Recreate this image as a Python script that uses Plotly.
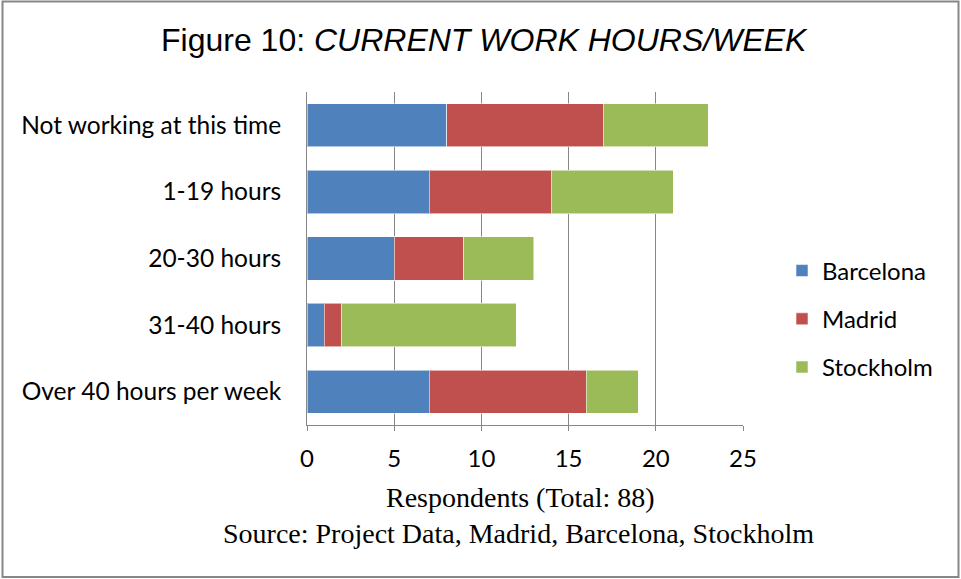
import plotly.graph_objects as go

categories = ["Not working at this time", "1-19 hours", "20-30 hours", "31-40 hours", "Over 40 hours per week"]
barcelona = [8, 7, 5, 1, 7]
madrid = [9, 7, 4, 1, 9]
stockholm = [6, 7, 4, 10, 3]
series_names = ["Barcelona", "Madrid", "Stockholm"]
series_colors = ["#4F81BD", "#C0504D", "#9BBB59"]
x_ticks = [0, 5, 10, 15, 20, 25]

W, H = 961, 579
fig = go.Figure()
for i, (name, vals, col) in enumerate(zip(series_names, [barcelona, madrid, stockholm], series_colors)):
    fig.add_trace(go.Bar(
        y=categories, x=vals, name=name, orientation="h",
        marker=dict(color=col, line=dict(color="rgba(255,255,255,0.55)", width=1)),
        legendgroup=name,
    ))

def px_x(p):
    return p / W

def px_y(p):
    return 1 - p / H

fig.update_layout(
    width=W, height=H, autosize=False,
    barmode="stack", bargap=0.35,
    paper_bgcolor="white", plot_bgcolor="white",
    margin=dict(l=0, r=0, t=0, b=0),
    font=dict(family="Lato, Open Sans, sans-serif", size=24, color="black"),
    xaxis=dict(
        domain=[px_x(307), px_x(743)],
        range=[0, 25], tickvals=x_ticks, ticktext=[str(v) for v in x_ticks],
        showgrid=True, gridcolor="#878787", gridwidth=1,
        showline=True, linecolor="#878787", linewidth=1,
        ticks="outside", ticklen=5, tickcolor="#878787",
        zeroline=False, ticklabelstandoff=7,
        tickfont=dict(size=24), automargin=False,
    ),
    yaxis=dict(
        domain=[px_y(425), px_y(92)],
        autorange="reversed",
        showline=True, linecolor="#878787", linewidth=1,
        showgrid=False, ticks="",
        ticklabelstandoff=20,
        tickfont=dict(size=24.5), automargin=False,
    ),
    legend=dict(
        x=px_x(782), y=px_y(319), xanchor="left", yanchor="middle",
        font=dict(size=24), tracegroupgap=14, traceorder="grouped",
        bgcolor="rgba(0,0,0,0)", itemwidth=30,
        entrywidth=115, entrywidthmode="pixels", borderwidth=0,
    ),
    showlegend=True,
)

fig.add_annotation(
    x=px_x(484), y=px_y(40), xref="paper", yref="paper",
    text="Figure 10: <i>CURRENT WORK HOURS/WEEK</i>", showarrow=False,
    font=dict(family="Liberation Sans, Arial, sans-serif", size=32, color="black"),
    xanchor="center", yanchor="middle",
)
fig.add_annotation(
    x=px_x(520), y=px_y(497), xref="paper", yref="paper",
    text="Respondents (Total: 88)", showarrow=False,
    font=dict(family="Liberation Serif, serif", size=28, color="black"),
    xanchor="center", yanchor="middle",
)
fig.add_annotation(
    x=px_x(518), y=px_y(533), xref="paper", yref="paper",
    text="Source: Project Data, Madrid, Barcelona, Stockholm", showarrow=False,
    font=dict(family="Liberation Serif, serif", size=28, color="black"),
    xanchor="center", yanchor="middle",
)
fig.add_shape(
    type="rect", xref="paper", yref="paper",
    x0=px_x(2.5), x1=px_x(958.5), y0=px_y(577), y1=px_y(1.5),
    line=dict(color="#878787", width=2), fillcolor="rgba(0,0,0,0)",
)

fig.write_html(
    "out.html",
    config={"displayModeBar": False, "responsive": False},
    default_width="961px", default_height="579px",
    post_script="document.body.style.margin='0';document.body.style.overflow='hidden';",
)
